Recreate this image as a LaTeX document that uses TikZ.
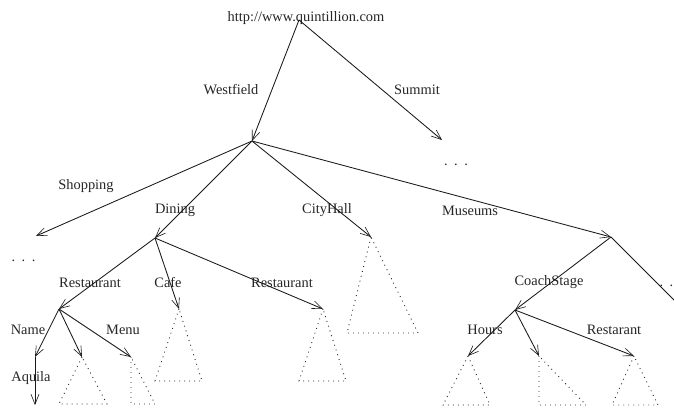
\documentclass[tikz,border=0pt]{standalone}
\usepackage{fontspec}
\setmainfont{Liberation Serif}
\usetikzlibrary{arrows.meta}
\tikzset{
  edgeline/.style={draw=black!90,line width=0.85pt,-{Straight Barb[length=10pt,width=8pt,line width=0.6pt]},shorten >=0pt},
  plainline/.style={draw=black!90,line width=0.85pt},
  tri/.style={draw=black!85,line width=0.9pt,dash pattern=on 0.9pt off 4.1pt},
  lab/.style={inner sep=0pt,font=\fontsize{14.4}{16}\selectfont,text=black!85},
}
\begin{document}
\begin{tikzpicture}[x=1pt,y=-1pt]
\useasboundingbox (0,0) rectangle (674,407);
\clip (0,0) rectangle (674,407);
\fill[white] (0,0) rectangle (674,407);
% labels
\node[lab] (root) at (306,18) {http://www.quintillion.com};
\node[lab] (lw) at (231,89.5) {Westfield};
\node[lab] (ls) at (417,89.5) {Summit};
\node[lab] (lsh) at (86,186) {Shopping};
\node[lab] (ld) at (175,210.5) {Dining};
\node[lab] (lc) at (327,210.5) {CityHall};
\node[lab] (lm) at (470,210.5) {Museums};
\node[lab] (lr1) at (90,282.5) {Restaurant};
\node[lab] (lcf) at (168,282.5) {Cafe};
\node[lab] (lr2) at (282,282.5) {Restaurant};
\node[lab] (lcs) at (549,282.5) {CoachStage};
\node[lab] (ln) at (28,330) {Name};
\node[lab] (lmn) at (123,330) {Menu};
\node[lab] (lh) at (485,330) {Hours};
\node[lab] (lrs) at (614,330) {Restarant};
\node[lab] (la) at (31,378) {Aquila};
\node[lab] (d1) at (23.5,260.5) {.\hspace{6.5pt}.\hspace{6.5pt}.};
\node[lab] (d2) at (456,164.5) {.\hspace{6.5pt}.\hspace{6.5pt}.};
\node[lab,anchor=east] (d3) at (673.5,285.5) {.\hspace{6.5pt}.};
% tree points
\coordinate (r) at (299,20);
\coordinate (w) at (252,141);
\coordinate (su) at (442,140);
\coordinate (sh) at (36,236);
\coordinate (di) at (155,238);
\coordinate (ch) at (371,237);
\coordinate (mu) at (611,237);
\coordinate (mr) at (676,302);
\coordinate (re) at (59,309);
\coordinate (cf) at (179,309);
\coordinate (rr) at (323,309);
\coordinate (co) at (515,310);
\coordinate (na) at (35,357);
\coordinate (mi) at (82,357);
\coordinate (me) at (131,357);
\coordinate (aq) at (35,405);
\coordinate (ho) at (468,356);
\coordinate (m2) at (539,356);
\coordinate (rs) at (634,356);
% edges
\draw[edgeline] (r) -- (w);
\draw[edgeline] (r) -- (su);
\draw[edgeline] (w) -- (sh);
\draw[edgeline] (w) -- (di);
\draw[edgeline] (w) -- (ch);
\draw[edgeline] (w) -- (mu);
\draw[plainline] (mu) -- (mr);
\draw[edgeline] (di) -- (re);
\draw[edgeline] (di) -- (cf);
\draw[edgeline] (di) -- (rr);
\draw[edgeline] (mu) -- (co);
\draw[edgeline] (re) -- (na);
\draw[edgeline] (re) -- (mi);
\draw[edgeline] (re) -- (me);
\draw[edgeline] (na) -- (aq);
\draw[edgeline] (co) -- (ho);
\draw[edgeline] (co) -- (m2);
\draw[edgeline] (co) -- (rs);
% dotted triangles
\draw[tri] (ch) -- (347,333) -- (418,333) -- cycle;
\draw[tri] (cf) -- (155,381) -- (202,381) -- cycle;
\draw[tri] (rr) -- (299,381) -- (346,381) -- cycle;
\draw[tri] (mi) -- (59,404) -- (107,404) -- cycle;
\draw[tri] (me) -- (131,404) -- (155,404) -- cycle;
\draw[tri] (ho) -- (443,405) -- (490,405) -- cycle;
\draw[tri] (m2) -- (539,405) -- (586,405) -- cycle;
\draw[tri] (rs) -- (612,405) -- (658,405) -- cycle;
\end{tikzpicture}
\end{document}
